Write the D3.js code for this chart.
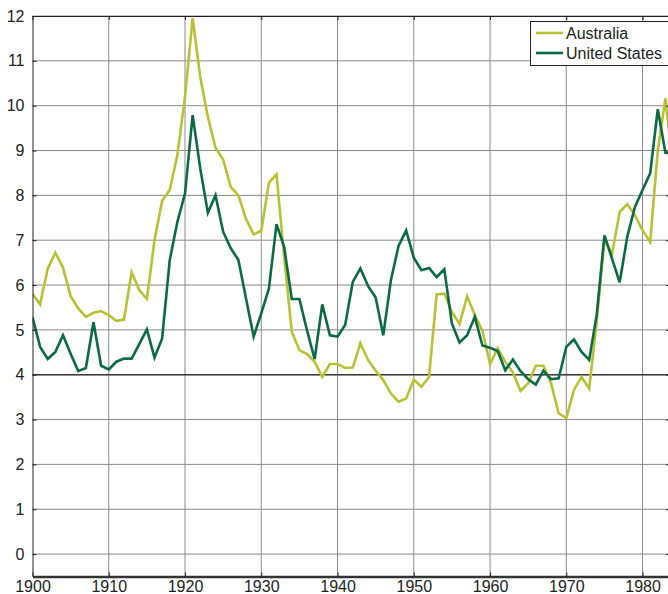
<!DOCTYPE html>
<html>
<head>
<meta charset="utf-8">
<script src="https://cdn.jsdelivr.net/npm/d3@7"></script>
<style>
    body { margin: 0; background: #fff; }
    svg { display: block; font-family: "Liberation Sans", Arial, Helvetica, sans-serif; }
</style>
</head>
<body>
<div id="chart-container"></div>
<script>
// Data
const years = d3.range(1900, 1985);

const australia = [
    5.80, 5.57, 6.37, 6.72, 6.39, 5.75, 5.48, 5.29, 5.38, 5.42,
    5.33, 5.20, 5.23, 6.29, 5.89, 5.69, 7.00, 7.88, 8.12, 8.90,
    10.20, 11.95, 10.64, 9.75, 9.06, 8.80, 8.19, 8.00, 7.47, 7.13,
    7.21, 8.28, 8.47, 6.63, 4.96, 4.55, 4.46, 4.29, 3.95, 4.24,
    4.24, 4.15, 4.16, 4.70, 4.33, 4.09, 3.88, 3.58, 3.40, 3.47,
    3.89, 3.73, 3.95, 5.79, 5.81, 5.40, 5.13, 5.75, 5.33, 4.98,
    4.23, 4.59, 4.29, 4.05, 3.64, 3.81, 4.20, 4.20, 3.81, 3.14,
    3.03, 3.66, 3.95, 3.69, 5.20, 7.00, 6.70, 7.63, 7.80, 7.56,
    7.22, 6.96, 9.00, 10.16, 8.60
];

const unitedStates = [
    5.28, 4.62, 4.35, 4.51, 4.88, 4.47, 4.08, 4.15, 5.17, 4.20,
    4.12, 4.29, 4.36, 4.36, 4.68, 5.01, 4.38, 4.81, 6.56, 7.41,
    8.04, 9.79, 8.60, 7.61, 8.00, 7.19, 6.82, 6.56, 5.70, 4.85,
    5.37, 5.92, 7.36, 6.85, 5.69, 5.69, 4.99, 4.35, 5.57, 4.88,
    4.85, 5.11, 6.07, 6.37, 5.98, 5.72, 4.88, 6.11, 6.87, 7.22,
    6.61, 6.33, 6.38, 6.18, 6.35, 5.14, 4.72, 4.88, 5.29, 4.65,
    4.60, 4.53, 4.10, 4.34, 4.08, 3.90, 3.78, 4.09, 3.90, 3.92,
    4.62, 4.79, 4.51, 4.33, 5.35, 7.11, 6.59, 6.06, 7.08, 7.74,
    8.12, 8.49, 9.92, 8.95, 8.93
];

const seriesNames = ["Australia", "United States"];
const seriesColors = ["#b6c232", "#0b6a45"];
const xTicks = [1900, 1910, 1920, 1930, 1940, 1950, 1960, 1970, 1980];
const yTicks = d3.range(0, 13);
const refLine = 4;

const width = 668;
const height = 594;
const plot = { left: 32.5, right: 670, top: 16, bottom: 576.5 };
const fontSize = "16px";

const svg = d3.select("#chart-container")
    .append("svg")
    .attr("width", width)
    .attr("height", height);

// Scales (the right edge of the original axes runs just past the picture)
const x = d3.scaleLinear()
    .domain([1900, 1983.6])
    .range([plot.left, plot.right]);

const y = d3.scaleLinear()
    .domain([-0.5, 12])
    .range([plot.bottom, plot.top]);

svg.append("clipPath")
    .attr("id", "plot-clip")
    .append("rect")
    .attr("x", plot.left)
    .attr("y", plot.top)
    .attr("width", plot.right - plot.left)
    .attr("height", plot.bottom - plot.top);

// Grid lines
const grid = svg.append("g").attr("class", "grid");

grid.selectAll(".vgrid")
    .data(xTicks.slice(1))
    .enter().append("line")
    .attr("x1", d => x(d)).attr("x2", d => x(d))
    .attr("y1", plot.top).attr("y2", plot.bottom)
    .attr("stroke", "#8a8a8a")
    .attr("stroke-width", 1);

grid.selectAll(".hgrid")
    .data(yTicks)
    .enter().append("line")
    .attr("x1", plot.left).attr("x2", plot.right)
    .attr("y1", d => y(d)).attr("y2", d => y(d))
    .attr("stroke", "#8a8a8a")
    .attr("stroke-width", 1);

// Reference line at 4
svg.append("line")
    .attr("x1", plot.left).attr("x2", plot.right)
    .attr("y1", y(refLine)).attr("y2", y(refLine))
    .attr("stroke", "#3a3a3a")
    .attr("stroke-width", 1.6);

// Series lines
const line = d3.line()
    .x((d, i) => x(years[i]))
    .y(d => y(d));

const allSeries = [australia, unitedStates];

svg.append("g")
    .attr("clip-path", "url(#plot-clip)")
    .selectAll("path")
    .data(allSeries)
    .enter().append("path")
    .attr("d", line)
    .attr("fill", "none")
    .attr("stroke", (d, i) => seriesColors[i])
    .attr("stroke-width", 2.6)
    .attr("stroke-linejoin", "miter");

// Axes: box lines with inward ticks
const xAxisBottom = svg.append("g")
    .attr("transform", `translate(0,${plot.bottom})`)
    .call(d3.axisBottom(x).tickValues(xTicks).tickFormat(d3.format("d")).tickSizeInner(-4).tickSizeOuter(0).tickPadding(4));

xAxisBottom.select(".domain")
    .attr("stroke", "#333")
    .attr("stroke-width", 2.5);

const xAxisTop = svg.append("g")
    .attr("transform", `translate(0,${plot.top})`)
    .call(d3.axisTop(x).tickValues(xTicks).tickFormat("").tickSizeInner(-4).tickSizeOuter(0));

const yAxisLeft = svg.append("g")
    .attr("transform", `translate(${plot.left},0)`)
    .call(d3.axisLeft(y).tickValues(yTicks).tickSizeInner(-4).tickSizeOuter(0).tickPadding(8));

const yAxisRight = svg.append("g")
    .attr("transform", `translate(${plot.right},0)`)
    .call(d3.axisRight(y).tickValues(yTicks).tickFormat("").tickSizeInner(-4).tickSizeOuter(0));

svg.selectAll(".tick line").attr("stroke", "#222");
svg.selectAll(".tick text")
    .attr("fill", "#222")
    .style("font-size", fontSize);
xAxisTop.select(".domain").attr("stroke", "#222");
yAxisLeft.select(".domain").attr("stroke", "#222");
yAxisRight.select(".domain").attr("stroke", "#222");

// Legend
const legend = svg.append("g").attr("class", "legend");

legend.append("rect")
    .attr("x", 530.5)
    .attr("y", 21.5)
    .attr("width", 160)
    .attr("height", 44)
    .attr("fill", "#fff")
    .attr("stroke", "#222")
    .attr("stroke-width", 1);

const legendItems = legend.selectAll(".item")
    .data(seriesNames)
    .enter().append("g")
    .attr("transform", (d, i) => `translate(0,${33 + i * 20})`);

legendItems.append("line")
    .attr("x1", 536).attr("x2", 563)
    .attr("y1", 0).attr("y2", 0)
    .attr("stroke", (d, i) => seriesColors[i])
    .attr("stroke-width", 2.6);

legendItems.append("text")
    .attr("x", 566)
    .attr("dy", "0.35em")
    .attr("fill", "#222")
    .style("font-size", fontSize)
    .text(d => d);
</script>
</body>
</html>
